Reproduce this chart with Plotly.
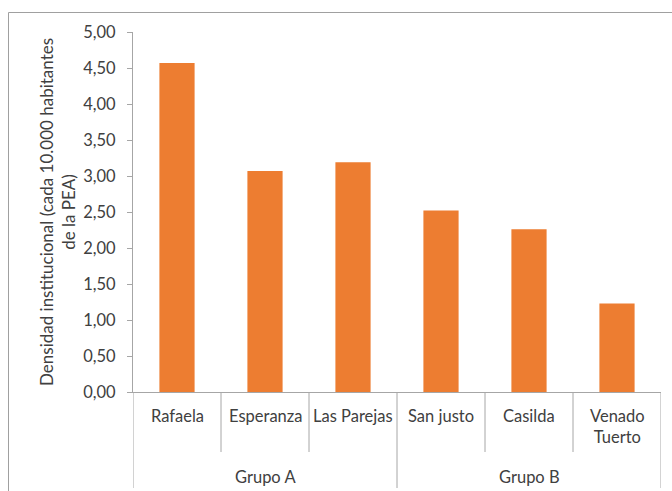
import plotly.graph_objects as go

categories = ["Rafaela", "Esperanza", "Las Parejas", "San justo", "Casilda", "Venado<br>Tuerto"]
groups = ["Grupo A", "Grupo B"]
group_sizes = [3, 3]
values = [4.57, 3.07, 3.19, 2.52, 2.26, 1.23]
y_ticks = [0, 0.5, 1, 1.5, 2, 2.5, 3, 3.5, 4, 4.5, 5]

FONT = "Lato"
FS = 16.5
TXT = "#404040"
AX = "#a6a6a6"

W, H = 672, 491
ML, MR, MT, MB = 133, 11, 32, 99
PW, PH = W - ML - MR, H - MT - MB

def py(px):  # pixel y -> paper y
    return (H - MB - px) / PH

def pxx(px):  # pixel x -> paper x
    return (px - ML) / PW

xs = list(range(len(categories)))
fig = go.Figure(go.Bar(x=xs, y=values, width=0.4, marker=dict(color="#ED7D31", line=dict(width=0))))

shapes = []
annotations = []
# frame
shapes.append(dict(type="rect", xref="paper", yref="paper", x0=pxx(8.5), x1=pxx(680), y0=py(12.5), y1=py(500),
                   line=dict(color="#a0a0a0", width=1), fillcolor="rgba(0,0,0,0)", layer="below"))
# category dividers
boundaries = [i - 0.5 for i in range(len(categories) + 1)]
group_edges = [-0.5]
acc = -0.5
for s in group_sizes:
    acc += s
    group_edges.append(acc)
for b in boundaries:
    is_group = any(abs(b - g) < 1e-9 for g in group_edges)
    shapes.append(dict(type="line", xref="x", yref="paper", x0=b, x1=b, y0=0, y1=py(488 if is_group else 452),
                       line=dict(color=AX, width=1)))
for i, c in enumerate(categories):
    annotations.append(dict(x=i, y=py(404), xref="x", yref="paper", text=c, showarrow=False,
                            yanchor="top", font=dict(family=FONT, size=FS, color=TXT)))
start = 0
for g, s in zip(groups, group_sizes):
    center = start + (s - 1) / 2
    annotations.append(dict(x=center, y=py(477), xref="x", yref="paper", text=g, showarrow=False,
                            yanchor="middle", font=dict(family=FONT, size=FS, color=TXT)))
    start += s
annotations.append(dict(x=pxx(57), y=0.5, xref="paper", yref="paper",
                        text="Densidad institucional (cada 10.000 habitantes<br>de la PEA)",
                        showarrow=False, textangle=-90, xanchor="center", yanchor="middle",
                        font=dict(family=FONT, size=17, color=TXT)))

fig.update_layout(
    width=W, height=H, margin=dict(l=ML, r=MR, t=MT, b=MB),
    paper_bgcolor="white", plot_bgcolor="white",
    separators=",.",
    showlegend=False,
    shapes=shapes, annotations=annotations,
    xaxis=dict(range=[-0.5, len(categories) - 0.5], showticklabels=False, showgrid=False, zeroline=False,
               showline=True, linecolor=AX, linewidth=1, ticks=""),
    yaxis=dict(range=[0, 5], tickvals=y_ticks, tickformat=".2f", showgrid=False, zeroline=False,
               showline=True, linecolor=AX, linewidth=1, ticks="outside", ticklen=5, tickcolor=AX,
               tickfont=dict(family=FONT, size=FS, color=TXT), ticklabelstandoff=8),
)
fig.write_html("out.html")
